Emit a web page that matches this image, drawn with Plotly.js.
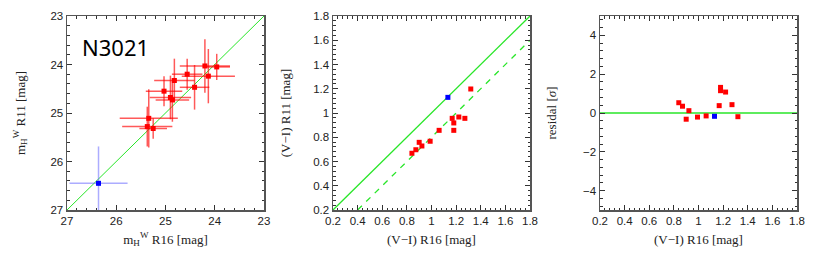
<!DOCTYPE html>
<html><head><meta charset="utf-8">
<script src="https://cdn.plot.ly/plotly-3.0.1.min.js"></script>
<style>html,body{margin:0;padding:0;background:#fff}#chart{width:817px;height:262px}</style>
</head><body><div id="chart"></div>
<script>
// Panel 1: mH^W R16 vs R11
const magR16 = [24.20, 23.96, 24.13, 24.56, 24.41, 24.82, 25.03, 24.90, 24.86, 25.34, 25.37, 25.25];
const magR11 = [24.03, 24.05, 24.24, 24.20, 24.47, 24.33, 24.55, 24.68, 24.73, 25.11, 25.28, 25.32];
const magR16Err = [0.51, 0.27, 0.54, 0.31, 0.30, 0.41, 0.37, 0.42, 0.34, 0.59, 0.51, 0.28];
const magR11Err = [0.55, 0.27, 0.56, 0.32, 0.46, 0.45, 0.31, 0.45, 0.45, 0.60, 0.41, 0.21];
const blueMagR16 = [26.36], blueMagR11 = [26.45], blueMagR16Err = [0.59], blueMagR11Err = [0.76];
const magLine = [27, 23];

// Panel 2: (V-I) R16 vs R11
const viR16 = [0.841, 0.873, 0.900, 0.922, 0.989, 1.062, 1.168, 1.181, 1.181, 1.222, 1.271, 1.319];
const viR11 = [0.668, 0.697, 0.758, 0.728, 0.767, 0.857, 0.956, 0.918, 0.857, 0.967, 0.956, 1.198];
const blueViR16 = [1.133], blueViR11 = [1.129];
const viLine = [0.2, 1.8];
const viOffset = 0.2;

// Panel 3: residuals
const resX = [0.840, 0.870, 0.922, 0.900, 0.992, 1.062, 1.168, 1.179, 1.179, 1.220, 1.272, 1.320];
const resY = [0.53, 0.35, 0.12, -0.32, -0.21, -0.15, 0.38, 1.32, 1.15, 1.08, 0.43, -0.19];
const blueResX = [1.130], blueResY = [-0.17];
const resLineX = [0.2, 1.8], resLineY = [0, 0];

const RED = '#ff0000', BLUE = '#0000ff', GREEN = 'rgb(40,230,40)';
const traces = [
  {x: magLine, y: magLine, mode: 'lines', line: {color: GREEN, width: 1}, xaxis: 'x', yaxis: 'y', hoverinfo: 'skip'},
  {x: magR16, y: magR11, mode: 'markers', xaxis: 'x', yaxis: 'y',
   marker: {symbol: 'square', size: 5, color: RED},
   error_x: {type: 'data', array: magR16Err, color: 'rgba(255,0,0,0.65)', thickness: 1.5, width: 0},
   error_y: {type: 'data', array: magR11Err, color: 'rgba(255,0,0,0.65)', thickness: 1.5, width: 0}},
  {x: blueMagR16, y: blueMagR11, mode: 'markers', xaxis: 'x', yaxis: 'y',
   marker: {symbol: 'square', size: 5, color: BLUE},
   error_x: {type: 'data', array: blueMagR16Err, color: 'rgba(90,90,255,0.5)', thickness: 1.5, width: 0},
   error_y: {type: 'data', array: blueMagR11Err, color: 'rgba(90,90,255,0.5)', thickness: 1.5, width: 0}},

  {x: viLine, y: viLine, mode: 'lines', line: {color: GREEN, width: 1.3}, xaxis: 'x2', yaxis: 'y2', hoverinfo: 'skip'},
  {x: viLine.map(v => v + viOffset), y: viLine, mode: 'lines', line: {color: GREEN, width: 1.3, dash: '6px,6px'}, xaxis: 'x2', yaxis: 'y2', hoverinfo: 'skip'},
  {x: viR16, y: viR11, mode: 'markers', xaxis: 'x2', yaxis: 'y2', marker: {symbol: 'square', size: 5, color: RED}},
  {x: blueViR16, y: blueViR11, mode: 'markers', xaxis: 'x2', yaxis: 'y2', marker: {symbol: 'square', size: 5, color: BLUE}},

  {x: resLineX, y: resLineY, mode: 'lines', line: {color: GREEN, width: 1.3}, xaxis: 'x3', yaxis: 'y3', hoverinfo: 'skip'},
  {x: resX, y: resY, mode: 'markers', xaxis: 'x3', yaxis: 'y3', marker: {symbol: 'square', size: 5, color: RED}},
  {x: blueResX, y: blueResY, mode: 'markers', xaxis: 'x3', yaxis: 'y3', marker: {symbol: 'square', size: 5, color: BLUE}}
];

const tickFont = {family: 'Liberation Sans, Arial, sans-serif', size: 11.5, color: '#222'};
const titleFont = {family: 'Liberation Serif, Times New Roman, serif', size: 13, color: '#222'};
function ax(range, dtick, minorDtick, domain, anchor, title, standoff) {
  return {
    range: range, domain: domain, anchor: anchor, tick0: 0, dtick: dtick,
    ticks: 'inside', ticklen: 5, tickwidth: 1, tickcolor: '#333', mirror: 'allticks',
    showline: true, linecolor: '#555', linewidth: 1.5, showgrid: false, zeroline: false,
    minor: {dtick: minorDtick, tick0: 0, ticks: 'inside', ticklen: 2.5, tickcolor: '#333', showgrid: false},
    tickfont: tickFont, automargin: false,
    title: {text: title, font: titleFont, standoff: standoff}
  };
}
const d1 = [67/817, 264/817], d2 = [333/817, 530/817], d3 = [600/817, 797/817];
const layout = {
  width: 817, height: 262, showlegend: false,
  margin: {l: 0, r: 0, t: 16, b: 52},
  paper_bgcolor: '#fff', plot_bgcolor: '#fff',
  xaxis: ax([27, 23], 1, 0.2, d1, 'y', 'm<sub>H</sub><sup>W</sup> R16 [mag]', 8),
  yaxis: ax([27, 23], 1, 0.2, [0, 1], 'x', 'm<sub>H</sub><sup>W</sup> R11 [mag]', 22),
  xaxis2: ax([0.2, 1.8], 0.2, 0.04, d2, 'y2', '(V\u2212I) R16 [mag]', 8),
  yaxis2: ax([0.2, 1.8], 0.2, 0.04, [0, 1], 'x2', '(V\u2212I) R11 [mag]', 19),
  xaxis3: ax([0.2, 1.8], 0.2, 0.04, d3, 'y3', '(V\u2212I) R16 [mag]', 8),
  yaxis3: ax([-5, 5], 2, 0.4, [0, 1], 'x3', 'residal [<i>\u03c3</i>]', 23),
  annotations: [{text: 'N3021', xref: 'x', yref: 'y', x: 26.01, y: 23.64, showarrow: false,
    font: {family: 'Noto Sans, Open Sans, sans-serif', size: 22, color: '#000'}}]
};
Plotly.newPlot('chart', traces, layout, {staticPlot: true, displayModeBar: false});
</script></body></html>
